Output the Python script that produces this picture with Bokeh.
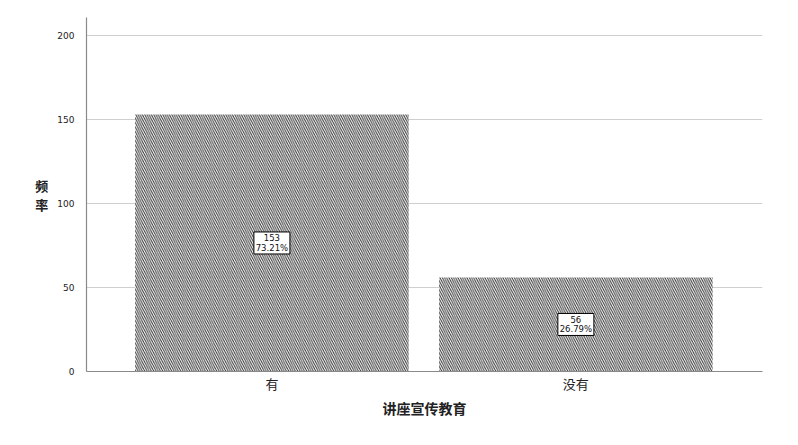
from bokeh.plotting import figure
from bokeh.models import Range1d, FixedTicker, ColumnDataSource
from bokeh.core.properties import value
from bokeh.embed import file_html
from bokeh.resources import INLINE

categories = ["有", "没有"]
counts = [153, 56]
percents = ["73.21%", "26.79%"]
y_ticks = [0, 50, 100, 150, 200]

xs = [i + 1 for i in range(len(categories))]
src = ColumnDataSource(dict(x=xs, top=counts, mid=[c / 2 for c in counts],
                            cnt=[str(c) for c in counts], pct=percents))

p = figure(width=790, height=437, output_backend="svg", toolbar_location=None,
           x_range=Range1d(0.39, 2.614), y_range=Range1d(0, 210.7),
           min_border_left=86, min_border_right=28, min_border_top=17, min_border_bottom=66)
p.outline_line_color = None

p.vbar(x="x", top="top", width=0.9, bottom=0, source=src,
       fill_color="white", line_color=None,
       hatch_pattern="\\", hatch_color="#333333", hatch_scale=4.5, hatch_weight=1.0)

p.rect(x="x", y="mid", width=36, height=22, width_units="screen", height_units="screen",
       source=src, fill_color="white", line_color="black", line_width=1)
p.text(x="x", y="mid", text="cnt", source=src, y_offset=-5,
       text_align="center", text_baseline="middle",
       text_font=value("DejaVu Sans"), text_font_size="8.5px", text_color="#111111")
p.text(x="x", y="mid", text="pct", source=src, y_offset=5,
       text_align="center", text_baseline="middle",
       text_font=value("DejaVu Sans"), text_font_size="8.5px", text_color="#111111")

p.xaxis.ticker = FixedTicker(ticks=xs)
p.xaxis.major_label_overrides = {x: c for x, c in zip(xs, categories)}
p.yaxis.ticker = FixedTicker(ticks=y_ticks)

p.xgrid.grid_line_color = None
p.ygrid.grid_line_color = "#cfcfcf"
p.ygrid.grid_line_width = 1

for ax in (p.xaxis, p.yaxis):
    ax.axis_line_color = "#8a8a8a"
    ax.axis_line_width = 1.2
    ax.major_tick_line_color = None
    ax.minor_tick_line_color = None
    ax.major_label_text_color = "#222222"

p.yaxis.major_label_text_font = "DejaVu Sans"
p.yaxis.major_label_text_font_size = "9px"
p.yaxis.major_label_standoff = 6
p.xaxis.major_label_text_font = "Noto Sans CJK SC"
p.xaxis.major_label_text_font_size = "13px"
p.xaxis.major_label_standoff = -4

p.xaxis.axis_label = "讲座宣传教育"
p.xaxis.axis_label_text_font = "Noto Sans CJK SC"
p.xaxis.axis_label_text_font_style = "bold"
p.xaxis.axis_label_text_font_size = "14px"
p.xaxis.axis_label_text_color = "#222222"
p.xaxis.axis_label_standoff = 2

p.yaxis.axis_label = "频\n率"
p.yaxis.axis_label_orientation = "horizontal"
p.yaxis.axis_label_text_font = "Noto Sans CJK SC"
p.yaxis.axis_label_text_font_style = "bold"
p.yaxis.axis_label_text_font_size = "13px"
p.yaxis.axis_label_text_color = "#222222"
p.yaxis.axis_label_standoff = 6
p.yaxis.axis_label_text_line_height = 1.0

open("out.html", "w").write(file_html(p, INLINE))
